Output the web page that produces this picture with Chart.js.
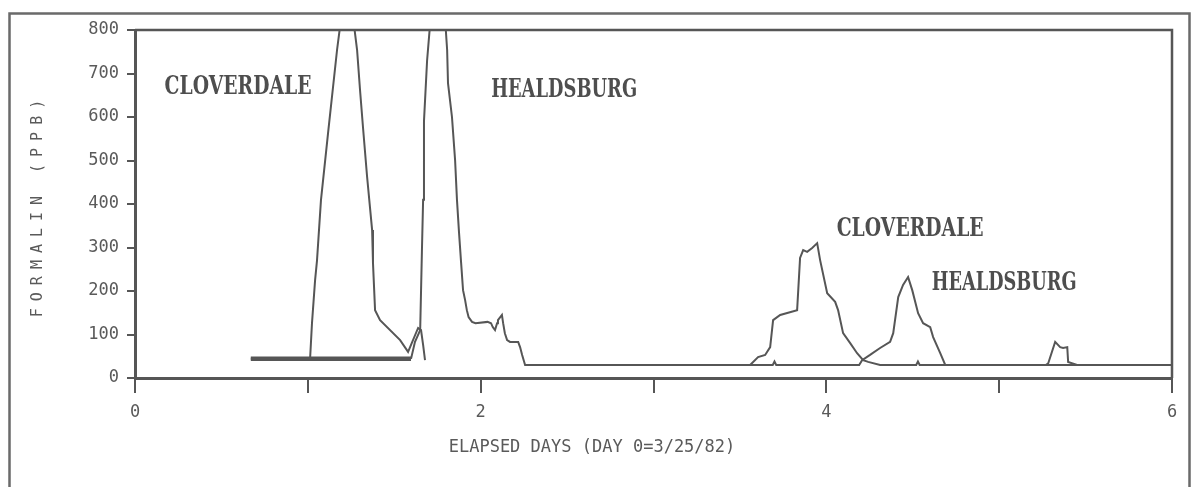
<!DOCTYPE html>
<html>
<head>
<meta charset="utf-8">
<script src="https://cdn.jsdelivr.net/npm/chart.js@4.4.1/dist/chart.umd.min.js"></script>
<style>
  html, body { margin: 0; padding: 0; background: #ffffff; }
  #wrap { width: 1194px; height: 487px; position: relative; }
</style>
</head>
<body>
<div id="wrap"><canvas id="c" width="1194" height="487"></canvas></div>
<script>
// ---------------- DATA ----------------
const xTickValues = [0, 1, 2, 3, 4, 5, 6];
const xTickLabels = ['0', '', '2', '', '4', '', '6'];
const yTickValues = [0, 100, 200, 300, 400, 500, 600, 700, 800];

const cloverdaleDays = [0.67, 1.013, 1.024, 1.042, 1.053, 1.076, 1.117, 1.169, 1.20, 1.255, 1.285, 1.302, 1.319, 1.343, 1.372, 1.377, 1.389, 1.418, 1.534, 1.58, 1.638, 1.655, 1.667, 1.678,
  2.5,
  3.559, 3.605, 3.646, 3.675, 3.692, 3.733, 3.831, 3.848, 3.866, 3.889, 3.918, 3.947, 3.964, 4.005, 4.051, 4.068, 4.097, 4.138, 4.178, 4.213, 4.242, 4.311, 4.52, 4.53, 4.54, 6.0];
const cloverdalePpb = [44, 44, 126, 225, 270, 409, 563, 754, 850, 850, 754, 662, 577, 462, 340, 264, 156, 133, 87, 60, 115, 110, 76, 41,
  null,
  30, 48, 53, 71, 133, 145, 156, 276, 294, 290, 299, 310, 271, 195, 175, 156, 103, 80, 57, 41, 37, 30, 30, 38, 30, 30];

const healdsburgDays = [0.67, 1.597, 1.62, 1.638, 1.65, 1.66, 1.667, 1.672, 1.69, 1.715, 1.79, 1.806, 1.811, 1.834, 1.852, 1.863, 1.875, 1.887, 1.898, 1.91, 1.92, 1.93, 1.95, 1.97, 2.04, 2.06, 2.07, 2.083, 2.095, 2.10, 2.123, 2.13, 2.14, 2.153, 2.17, 2.217, 2.228, 2.24, 2.257,
  3.69, 3.70, 3.71, 4.19, 4.207, 4.253, 4.311, 4.369, 4.387, 4.416, 4.444, 4.473, 4.497, 4.531, 4.56, 4.601, 4.618, 4.659, 4.688,
  5.27, 5.284, 5.324, 5.353, 5.37, 5.394, 5.399, 5.451, 6.0];
const healdsburgPpb = [44, 44, 83, 99, 110, 290, 410, 590, 730, 850, 850, 754, 678, 600, 501, 409, 333, 264, 202, 179, 156, 140, 129, 126, 129, 126, 117, 110, 126, 133, 145, 126, 103, 87, 83, 83, 71, 53, 30,
  30, 38, 30, 30, 41, 53, 69, 83, 103, 186, 214, 232, 202, 149, 126, 117, 94, 57, 30,
  30, 34, 83, 71, 69, 71, 37, 30, 30];

const noteTexts = ['CLOVERDALE', 'HEALDSBURG', 'CLOVERDALE', 'HEALDSBURG'];
const xTitle = 'ELAPSED DAYS (DAY 0=3/25/82)';
const yTitle = 'FORMALIN (PPB)';

// ---------------- LAYOUT / STYLE ----------------
const INK = '#565656';
const TEXT = '#5a5a5a';
const MONO = "'DejaVu Sans Mono', 'Liberation Mono', monospace";
const SERIF = "'DejaVu Serif', 'Liberation Serif', serif";
// anchors (in data units: day, ppb) and fitted widths for the annotation notes
const noteAnchors = [
  { day: 0.596, ppb: 669, w: 147 },
  { day: 2.483, ppb: 662, w: 146 },
  { day: 4.485, ppb: 343, w: 147 },
  { day: 5.029, ppb: 218, w: 145 }
];

function toPoints(xs, ys) { return xs.map((x, i) => ({ x: x, y: ys[i] })); }

function fitText(ctx, text, cx, cy, targetW, font) {
  ctx.save();
  ctx.font = font;
  const w = ctx.measureText(text).width;
  ctx.translate(cx, cy);
  ctx.scale(targetW / w, 1);
  ctx.textAlign = 'center';
  ctx.textBaseline = 'middle';
  ctx.fillText(text, 0, 0);
  ctx.restore();
}

const decorPlugin = {
  id: 'decor',
  beforeDraw(chart) {
    const ctx = chart.ctx;
    ctx.save();
    ctx.strokeStyle = '#6a6a6a';
    ctx.lineWidth = 2.5;
    ctx.strokeRect(9.5, 13.5, 1180, 520);
    ctx.restore();
  },
  afterDraw(chart) {
    const ctx = chart.ctx;
    const a = chart.chartArea;
    const xs = chart.scales.x, ys = chart.scales.y;
    ctx.save();
    // plot frame: top and right
    ctx.strokeStyle = INK;
    ctx.lineWidth = 2.5;
    ctx.beginPath();
    ctx.moveTo(a.left, a.top);
    ctx.lineTo(a.right, a.top);
    ctx.lineTo(a.right, a.bottom);
    ctx.stroke();

    // annotation notes
    ctx.fillStyle = '#4e4e4e';
    noteTexts.forEach((t, i) => {
      const n = noteAnchors[i];
      fitText(ctx, t, xs.getPixelForValue(n.day), ys.getPixelForValue(n.ppb), n.w, 'bold 26px ' + SERIF);
    });

    // x title
    ctx.fillStyle = TEXT;
    ctx.font = '17px ' + MONO;
    ctx.textAlign = 'center';
    ctx.textBaseline = 'middle';
    ctx.fillText(xTitle, 592, 448);

    // y title (rotated, wide letter spacing)
    ctx.translate(38, (a.top + a.bottom) / 2 + 4);
    ctx.rotate(-Math.PI / 2);
    ctx.font = '15px ' + MONO;
    ctx.letterSpacing = '7px';
    ctx.textAlign = 'center';
    ctx.textBaseline = 'middle';
    ctx.fillText(yTitle, 3, 0);
    ctx.restore();
  }
};

new Chart(document.getElementById('c'), {
  type: 'scatter',
  data: {
    datasets: [
      {
        label: 'Cloverdale',
        data: toPoints(cloverdaleDays, cloverdalePpb),
        showLine: true,
        spanGaps: false,
        borderColor: INK,
        borderWidth: 2,
        pointRadius: 0,
        tension: 0
      },
      {
        label: 'Healdsburg',
        data: toPoints(healdsburgDays, healdsburgPpb),
        showLine: true,
        spanGaps: false,
        borderColor: INK,
        borderWidth: 2,
        pointRadius: 0,
        tension: 0,
        segment: {
          borderWidth: c => (c.p1.parsed.x < 1.6 && c.p0.parsed.y === c.p1.parsed.y && c.p0.parsed.y > 40) ? 4.5 : 2
        }
      }
    ]
  },
  options: {
    responsive: false,
    animation: false,
    events: [],
    layout: { padding: { left: 0, right: 22, top: 30, bottom: 0 } },
    plugins: { legend: { display: false }, tooltip: { enabled: false } },
    scales: {
      x: {
        type: 'linear',
        min: 0, max: 6,
        afterBuildTicks: s => { s.ticks = xTickValues.map(v => ({ value: v })); },
        afterFit: s => { s.height = 109; },
        ticks: {
          autoSkip: false, maxRotation: 0,
          color: TEXT,
          font: { family: MONO, size: 17 },
          padding: 9,
          callback: v => xTickLabels[xTickValues.indexOf(v)]
        },
        grid: { drawOnChartArea: false, tickLength: 15, color: INK, lineWidth: 2 },
        border: { color: INK, width: 3 }
      },
      y: {
        min: 0, max: 800,
        afterBuildTicks: s => { s.ticks = yTickValues.map(v => ({ value: v })); },
        afterFit: s => { s.width = 135; },
        ticks: {
          color: TEXT,
          font: { family: MONO, size: 17 },
          padding: 8
        },
        grid: { drawOnChartArea: false, tickLength: 8, color: INK, lineWidth: 2 },
        border: { color: INK, width: 3 }
      }
    }
  },
  plugins: [decorPlugin]
});
</script>
</body>
</html>
